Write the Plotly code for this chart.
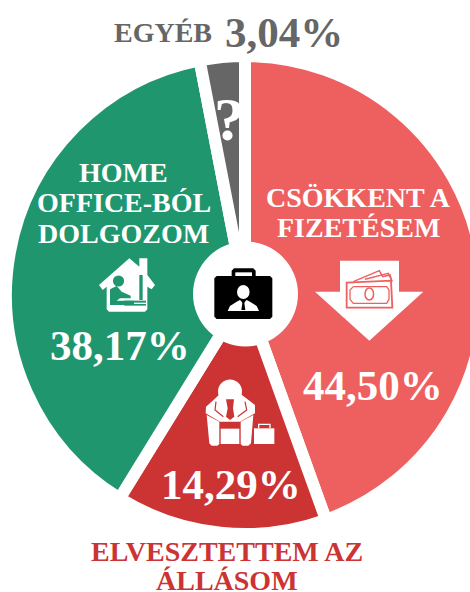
import plotly.graph_objects as go

categories = ["Csökkent a fizetésem", "Elvesztettem az állásom", "Home office-ból dolgozom", "Egyéb"]
values = [44.50, 14.29, 38.17, 3.04]
colors = ["#EE6060", "#CC3333", "#20966E", "#666666"]

F = "Liberation Serif"
W, H = 490, 592
CX, CY, R = 245, 295, 239
fig = go.Figure(go.Pie(labels=categories, values=values, sort=False, direction="clockwise",
    rotation=0, marker=dict(colors=colors, line=dict(color="white", width=12)),
    textinfo="none", hoverinfo="label+percent", showlegend=False,
    domain=dict(x=[(CX-R)/W, (CX+R)/W], y=[1-(CY+R)/H, 1-(CY-R)/H])))
fig.update_layout(width=W, height=H, margin=dict(l=0, r=0, t=0, b=0), paper_bgcolor="white",
    font=dict(family=F))

def px(x): return x/W
def py(y): return 1-y/H

def t(x, y, s, size, color="white"):
    fig.add_annotation(x=px(x), y=py(y), xref="paper", yref="paper", text=f"<b>{s}</b>", showarrow=False,
        xanchor="center", yanchor="middle",
        font=dict(family=F, size=size, color=color), align="center")

def poly(pts, fill=None, line=None, lw=0, org=(0, 0), k=1.0):
    p = [(org[0]+a*k, org[1]+b*k) for a, b in pts]
    path = "M " + " L ".join(f"{px(a):.5f},{py(b):.5f}" for a, b in p) + (" Z" if fill else "")
    fig.add_shape(type="path", xref="paper", yref="paper", path=path,
        fillcolor=fill if fill else "rgba(0,0,0,0)",
        line=dict(color=line if line else "rgba(0,0,0,0)", width=lw))

def circ(x, y, rx, ry=None, fill=None, line=None, lw=0):
    ry = ry or rx
    fig.add_shape(type="circle", xref="paper", yref="paper", x0=px(x-rx), x1=px(x+rx), y0=py(y+ry), y1=py(y-ry),
        fillcolor=fill if fill else "rgba(0,0,0,0)",
        line=dict(color=line if line else "rgba(0,0,0,0)", width=lw))

RED, GRN, SAL = colors[1], colors[2], colors[0]
circ(245.5, 294, 52.5, fill="white")

# briefcase
Z2 = (190, 240); k = 1/3
poly([(73,115),(80,108),(240,108),(247,115),(247,230),(240,237),(80,237),(73,230)], "black", org=Z2, k=k)
poly([(125,108),(125,92),(132,85),(190,85),(197,92),(197,108)], "black", org=Z2, k=k)
poly([(136,108),(136,97),(186,97),(186,108)], "white", org=Z2, k=k)
circ(243.3, 292, 6.3, 7, fill="white")
poly([(113,213),(120,198),(140,185),(150,180),(160,190),(170,180),(180,185),(200,198),(207,213)], "white", org=Z2, k=k)
poly([(155,182),(165,182),(163,190),(166,210),(154,210),(157,190)], "black", org=Z2, k=k)

# arrow with banknote
poly([(450,62),(627,62),(627,155),(700,155),(538,302),(375,155),(450,155)], "white", org=Z2, k=k)
poly([(490,125),(568,92),(578,110),(600,105),(606,125)], None, SAL, 1.5, org=Z2, k=k)
poly([(525,118),(595,100),(606,123)], None, SAL, 1.5, org=Z2, k=k)
poly([(470,128),(603,122),(607,203),(470,203),(470,128)], "white", SAL, 1.8, org=Z2, k=k)
poly([(490,140),(590,140),(597,150),(597,178),(590,190),(490,190),(480,178),(480,150),(490,140)], None, SAL, 1.3, org=Z2, k=k)
circ(369.3, 294, 4.3, 6, line=SAL, lw=1.5)

# man
circ(230, 391.5, 13.5, fill=RED)
circ(230, 391.5, 12, fill="white")
poly([(90,462),(48,500),(47,520),(90,545),(150,545),(195,520),(195,495),(152,462),(120,495)], "white", org=Z2, k=k)
poly([(108,478),(132,478),(129,505),(133,530),(120,540),(108,530),(113,505)], RED, org=Z2, k=k)
poly([(78,485),(75,510),(100,530)], None, RED, 1.2, org=Z2, k=k)
poly([(165,485),(170,510),(143,530)], None, RED, 1.2, org=Z2, k=k)
poly([(50,525),(88,545),(88,612),(82,617),(65,617),(58,610)], "white", org=Z2, k=k)
poly([(190,525),(152,545),(152,612),(158,617),(175,617),(183,610)], "white", org=Z2, k=k)
poly([(92,566),(148,566),(148,612),(92,612)], "white", org=Z2, k=k)
poly([(192,565),(253,565),(253,612),(192,612)], "white", org=Z2, k=k)
poly([(206,565),(206,553),(240,553),(240,565)], None, "white", 1.3, org=Z2, k=k)

# home icon
Z1 = (60, 150)
poly([(208,325),(238,350),(238,325),(262,325),(262,375),(285,405),(275,418),(262,410),(262,478),(255,485),(147,485),(140,478),(140,410),(128,420),(117,405)],
     "white", org=Z1, k=k)
circ(118.5, 281, 5.6, fill=GRN)
poly([(150,418),(170,408),(185,425),(212,437),(212,445),(180,445),(170,452),(222,452),(222,465),(150,465)], GRN, org=Z1, k=k)
poly([(238,375),(248,375),(248,450),(238,450)], GRN, org=Z1, k=k)
poly([(193,452),(258,452),(258,458),(193,458)], GRN, org=Z1, k=k)
poly([(193,462),(258,462),(258,467),(193,467)], GRN, org=Z1, k=k)

t(163, 32, "EGYÉB", 28, colors[3])
t(284, 33, "3,04%", 43, colors[3])
t(229, 119, "?", 62)
t(124, 172, "HOME", 28)
t(124, 202, "OFFICE-BÓL", 28)
t(124, 233, "DOLGOZOM", 28)
t(120, 345, "38,17%", 43)
t(358, 197, "CSÖKKENT A", 28)
t(358, 227, "FIZETÉSEM", 28)
t(373, 385, "44,50%", 43)
t(231, 484, "14,29%", 43)
t(227, 551, "ELVESZTETTEM AZ", 28, colors[1])
t(227, 580, "ÁLLÁSOM", 28, colors[1])
fig.write_html("out.html", config=dict(displayModeBar=False),
    post_script="document.documentElement.style.overflow='hidden';document.body.style.overflow='hidden';document.body.style.margin='0';")
